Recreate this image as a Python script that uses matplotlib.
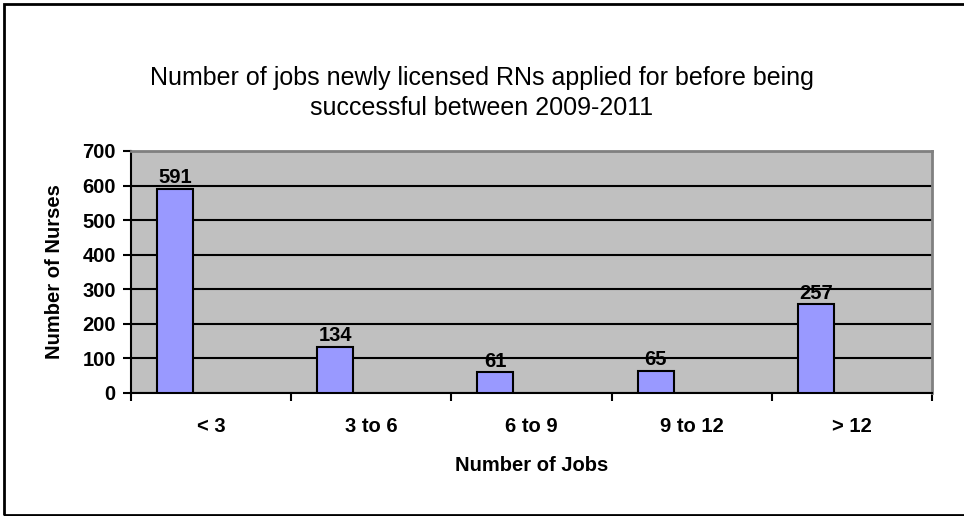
import numpy as np
import matplotlib.pyplot as plt
from matplotlib.patches import Rectangle

categories = ['< 3', '3 to 6', '6 to 9', '9 to 12', '> 12']
nurses = [591, 134, 61, 65, 257]
title = 'Number of jobs newly licensed RNs applied for before being\nsuccessful between 2009-2011'

plt.rcParams['font.family'] = ['Liberation Sans', 'DejaVu Sans']
fs = 14.5

fig = plt.figure(figsize=(9.64, 5.16), dpi=100)
ax = fig.add_axes([0.1359, 0.2384, 0.8309, 0.469])
ax.set_facecolor('#c0c0c0')

x = np.arange(len(categories))
# bars sit in the left part of each category slot
bar_w = 0.225
bar_x = x - 0.5 + 0.275
bars = ax.bar(bar_x, nurses, width=bar_w, color='#9999ff', edgecolor='black',
              linewidth=1.5, zorder=3)
for bx, v in zip(bar_x, nurses):
    ax.annotate(str(v), (bx, v), xytext=(0, 1), textcoords='offset points',
                ha='center', va='bottom', fontsize=fs, fontweight='bold', zorder=4)

ax.set_xlim(-0.5, len(categories) - 0.5)
ax.set_ylim(0, 700)
ax.set_yticks(range(0, 701, 100))
ax.yaxis.grid(True, color='black', linewidth=1.5, zorder=1)
ax.set_axisbelow(True)

ax.set_xticks(np.arange(-0.5, len(categories)))
ax.set_xticklabels([])
ax.set_xticks(x, minor=True)
ax.set_xticklabels(categories, minor=True, fontsize=fs, fontweight='bold')
ax.tick_params(axis='x', which='minor', length=0, pad=17)
ax.tick_params(axis='x', which='major', length=6, width=1.5, direction='out')
ax.tick_params(axis='y', length=6, width=1.5, direction='out', labelsize=fs, pad=5)
for lbl in ax.get_yticklabels():
    lbl.set_fontweight('bold')

for side in ['left', 'bottom']:
    ax.spines[side].set_linewidth(1.5)
    ax.spines[side].set_color('black')
for side in ['top', 'right']:
    ax.spines[side].set_linewidth(2)
    ax.spines[side].set_color('#808080')

ax.set_xlabel('Number of Jobs', fontsize=fs, fontweight='bold', labelpad=15)
ax.set_ylabel('Number of Nurses', fontsize=fs, fontweight='bold', labelpad=13)

fig.text(0.5, 0.82, title, ha='center', va='center', fontsize=18, linespacing=1.3)

# outer chart border
fig.patches.append(Rectangle((4 / 964, 1 / 516), 1.0, 511 / 516, transform=fig.transFigure,
                             fill=False, edgecolor='black', linewidth=2))

fig.savefig('out.png', dpi=100)
